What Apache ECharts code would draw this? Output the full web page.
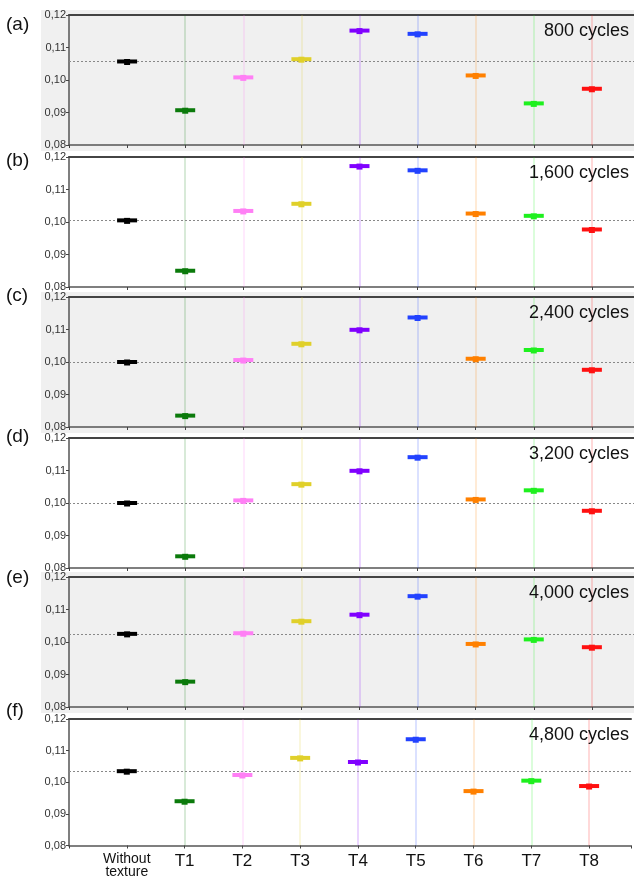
<!DOCTYPE html>
<html>
<head>
<meta charset="utf-8">
<script src="https://cdn.jsdelivr.net/npm/echarts@6/dist/echarts.min.js"></script>
<style>
  html, body { margin: 0; padding: 0; background: #fff; }
  #chart { width: 634px; height: 879px; }
</style>
</head>
<body>
<div id="chart"></div>
<script>
// Friction coefficient per surface texture, one panel per cycle count
const categories = ['Without texture', 'T1', 'T2', 'T3', 'T4', 'T5', 'T6', 'T7', 'T8'];
const markerColors = ['#000000', '#0b7a0b', '#ff7ff5', '#e0d02a', '#8000ff', '#2242ff', '#ff8000', '#1ef01e', '#ff1010'];
const panelLetters = ['(a)', '(b)', '(c)', '(d)', '(e)', '(f)'];
const cycleLabels = ['800 cycles', '1,600 cycles', '2,400 cycles', '3,200 cycles', '4,000 cycles', '4,800 cycles'];
const yTicks = [0.08, 0.09, 0.10, 0.11, 0.12];

const cof800  = [0.1057, 0.0907, 0.1008, 0.1064, 0.1152, 0.1142, 0.1014, 0.0928, 0.0973];
const cof1600 = [0.1005, 0.0850, 0.1034, 0.1056, 0.1172, 0.1159, 0.1026, 0.1019, 0.0977];
const cof2400 = [0.1000, 0.0835, 0.1006, 0.1056, 0.1099, 0.1137, 0.1010, 0.1037, 0.0976];
const cof3200 = [0.1000, 0.0836, 0.1008, 0.1058, 0.1099, 0.1141, 0.1011, 0.1039, 0.0976];
const cof4000 = [0.1025, 0.0878, 0.1027, 0.1064, 0.1084, 0.1141, 0.0994, 0.1008, 0.0984];
const cof4800 = [0.1035, 0.0940, 0.1023, 0.1077, 0.1064, 0.1136, 0.0972, 0.1005, 0.0988];

const panels = [cof800, cof1600, cof2400, cof3200, cof4000, cof4800];

// layout of the stacked panels
const gridTops = [15, 157, 297, 438, 577, 719];
const gridHeight = 130;
const gridLeft = 69;
const labelTops = [25, 161, 296, 437, 578, 711];
const xMin = -1, xMax = 8.725;

const yMin = yTicks[0], yMax = yTicks[yTicks.length - 1];
const yStep = +(yTicks[1] - yTicks[0]).toFixed(4);

const FONT = 'Liberation Sans, Arial, sans-serif';

function catName(v) {
  const i = Math.round(v);
  if (Math.abs(v - i) > 1e-6 || i < 0 || i >= categories.length) return '';
  return categories[i];
}

const grid = [], xAxis = [], yAxis = [], series = [], graphics = [];

panels.forEach((vals, p) => {
  const isLast = p === panels.length - 1;
  grid.push({ left: gridLeft, right: 0, top: gridTops[p], height: gridHeight });

  // bottom category axis
  xAxis.push({
    type: 'value', gridIndex: p, min: xMin, max: xMax, interval: 1,
    axisLine: { show: true, onZero: false, lineStyle: { color: '#555', width: 1.5 } },
    axisTick: { show: true, length: 3, lineStyle: { color: '#444', width: 1 } },
    splitLine: { show: false },
    axisLabel: isLast ? {
      show: true, margin: 7, color: '#111', fontFamily: FONT, fontSize: 17,
      formatter: v => {
        const n = catName(v);
        if (n === 'Without texture') return '{s|Without}\n{s|texture}';
        return n;
      },
      rich: { s: { fontSize: 14, lineHeight: 13, color: '#111', fontFamily: FONT } }
    } : { show: false }
  });
  // top frame line
  xAxis.push({
    type: 'value', gridIndex: p, position: 'top', min: xMin, max: xMax,
    axisLine: { show: true, onZero: false, lineStyle: { color: '#444', width: 2 } },
    axisTick: { show: false }, axisLabel: { show: false }, splitLine: { show: false }
  });

  yAxis.push({
    type: 'value', gridIndex: p, min: yMin, max: yMax, interval: yStep,
    axisLine: { show: true, onZero: false, lineStyle: { color: '#555', width: 1.5 } },
    axisTick: { show: true, length: 3, lineStyle: { color: '#444' } },
    splitLine: { show: false },
    axisLabel: {
      margin: 3, fontSize: 11, color: '#333', fontFamily: FONT,
      formatter: v => v.toFixed(2).replace('.', ',')
    }
  });

  const xi = p * 2;
  const pts = vals.map((v, i) => ({ value: [i, v], itemStyle: { color: markerColors[i], opacity: 1 } }));

  // guide lines: coloured verticals for textured samples and the reference level
  const guide = categories.slice(1).map((c, k) => ({
    xAxis: k + 1,
    lineStyle: { color: markerColors[k + 1], opacity: 0.16, width: 2, type: 'solid' }
  }));
  guide.push({ yAxis: vals[0], lineStyle: { color: '#888', width: 1, type: [2, 2], opacity: 1 } });

  series.push({
    type: 'line', xAxisIndex: xi, yAxisIndex: p, z: 1,
    data: vals.map((v, i) => [i, v]),
    showSymbol: false, lineStyle: { width: 0, opacity: 0 },
    silent: true, animation: false,
    markLine: { z: 1, silent: true, symbol: 'none', precision: 6, label: { show: false }, animation: false, data: guide }
  });
  series.push({
    type: 'scatter', xAxisIndex: xi, yAxisIndex: p, z: 3,
    symbol: 'rect', symbolSize: [20, 4], data: pts, animation: false
  });
  series.push({
    type: 'scatter', xAxisIndex: xi, yAxisIndex: p, z: 4,
    symbol: 'rect', symbolSize: [6, 6], symbolOffset: [0, 0.5], data: pts, animation: false
  });

  if (p % 2 === 0) {
    graphics.push({
      type: 'rect', z: -100, silent: true,
      shape: { x: 41, y: gridTops[p] - 5, width: 593, height: gridHeight + 11 },
      style: { fill: '#f0f0f0' }
    });
  }
  graphics.push({
    type: 'text', z: 100, silent: true, left: 6, top: labelTops[p] - 10,
    style: { text: panelLetters[p], fill: '#111', font: '19px ' + FONT }
  });
  graphics.push({
    type: 'text', z: 100, silent: true, right: 5, top: gridTops[p] + 7,
    style: { text: cycleLabels[p], fill: '#111', font: '18px ' + FONT }
  });
});

const chart = echarts.init(document.getElementById('chart'), null, { renderer: 'canvas' });
chart.setOption({
  backgroundColor: '#ffffff',
  animation: false,
  grid, xAxis, yAxis, series,
  graphic: { elements: graphics }
});
</script>
</body>
</html>
